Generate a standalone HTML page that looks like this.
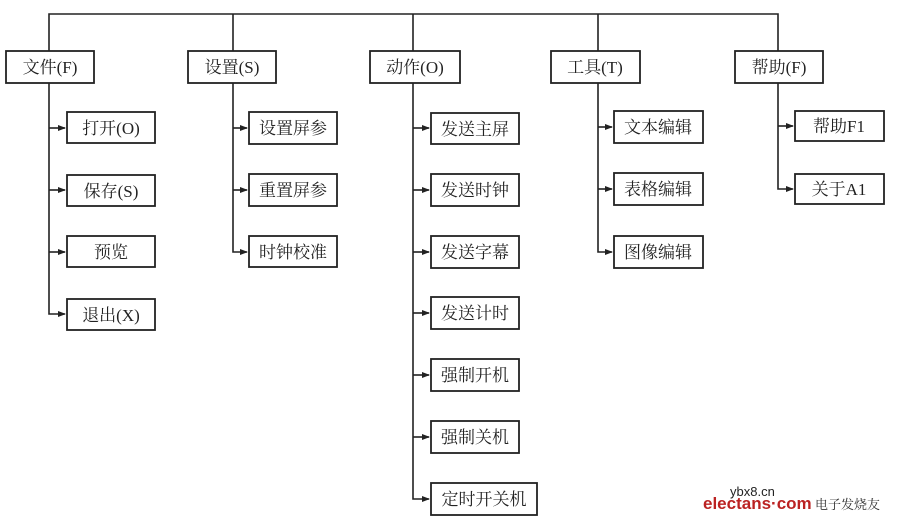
<!DOCTYPE html>
<html><head><meta charset="utf-8"><style>
html,body{margin:0;padding:0;background:#fff;}
svg{display:block;}
text{font-family:"Liberation Serif","Noto Serif CJK SC","Noto Sans CJK SC",serif;font-size:17px;fill:#222;}
</style></head><body>
<svg width="907" height="523" viewBox="0 0 907 523" xmlns="http://www.w3.org/2000/svg">
<defs><marker id="a" markerWidth="8" markerHeight="6" refX="7" refY="3" orient="auto" markerUnits="userSpaceOnUse"><path d="M0,0 L8,3 L0,6z" fill="#222"/></marker></defs>
<g stroke="#222" stroke-width="1.6" fill="none">
<path d="M49,51 V14 H778 V51"/>
<path d="M233,14 V51 M413,14 V51 M598,14 V51"/>
<path d="M49,83 V314 H65" marker-end="url(#a)"/>
<path d="M49,128 H65" marker-end="url(#a)"/>
<path d="M49,190 H65" marker-end="url(#a)"/>
<path d="M49,252 H65" marker-end="url(#a)"/>
<path d="M233,83 V252 H247" marker-end="url(#a)"/>
<path d="M233,128 H247" marker-end="url(#a)"/>
<path d="M233,190 H247" marker-end="url(#a)"/>
<path d="M413,83 V499 H429" marker-end="url(#a)"/>
<path d="M413,128 H429" marker-end="url(#a)"/>
<path d="M413,190 H429" marker-end="url(#a)"/>
<path d="M413,252 H429" marker-end="url(#a)"/>
<path d="M413,313 H429" marker-end="url(#a)"/>
<path d="M413,375 H429" marker-end="url(#a)"/>
<path d="M413,437 H429" marker-end="url(#a)"/>
<path d="M598,83 V252 H612" marker-end="url(#a)"/>
<path d="M598,127 H612" marker-end="url(#a)"/>
<path d="M598,189 H612" marker-end="url(#a)"/>
<path d="M778,83 V189 H793" marker-end="url(#a)"/>
<path d="M778,126 H793" marker-end="url(#a)"/>
</g>
<g stroke="#222" stroke-width="1.8" fill="#fff">
<rect x="6" y="51" width="88" height="32"/>
<rect x="188" y="51" width="88" height="32"/>
<rect x="370" y="51" width="90" height="32"/>
<rect x="551" y="51" width="89" height="32"/>
<rect x="735" y="51" width="88" height="32"/>
<rect x="67" y="112" width="88" height="31"/>
<rect x="67" y="175" width="88" height="31"/>
<rect x="67" y="236" width="88" height="31"/>
<rect x="67" y="299" width="88" height="31"/>
<rect x="249" y="112" width="88" height="32"/>
<rect x="249" y="174" width="88" height="32"/>
<rect x="249" y="236" width="88" height="31"/>
<rect x="431" y="113" width="88" height="31"/>
<rect x="431" y="174" width="88" height="32"/>
<rect x="431" y="236" width="88" height="32"/>
<rect x="431" y="297" width="88" height="32"/>
<rect x="431" y="359" width="88" height="32"/>
<rect x="431" y="421" width="88" height="32"/>
<rect x="431" y="483" width="106" height="32"/>
<rect x="614" y="111" width="89" height="32"/>
<rect x="614" y="173" width="89" height="32"/>
<rect x="614" y="236" width="89" height="32"/>
<rect x="795" y="111" width="89" height="30"/>
<rect x="795" y="174" width="89" height="30"/>
</g>
<g text-anchor="middle">
<text x="50" y="73">文件(F)</text>
<text x="232" y="73">设置(S)</text>
<text x="415" y="73">动作(O)</text>
<text x="595" y="73">工具(T)</text>
<text x="779" y="73">帮助(F)</text>
<text x="111" y="134">打开(O)</text>
<text x="111" y="197">保存(S)</text>
<text x="111" y="258">预览</text>
<text x="111" y="321">退出(X)</text>
<text x="293" y="134">设置屏参</text>
<text x="293" y="196">重置屏参</text>
<text x="293" y="258">时钟校准</text>
<text x="475" y="135">发送主屏</text>
<text x="475" y="196">发送时钟</text>
<text x="475" y="258">发送字幕</text>
<text x="475" y="319">发送计时</text>
<text x="475" y="381">强制开机</text>
<text x="475" y="443">强制关机</text>
<text x="484" y="505">定时开关机</text>
<text x="658" y="133">文本编辑</text>
<text x="658" y="195">表格编辑</text>
<text x="658" y="258">图像编辑</text>
<text x="839" y="132">帮助F1</text>
<text x="839" y="195">关于A1</text>
</g>
<text x="730" y="496" style="font-family:'Liberation Sans',sans-serif;font-size:13px;fill:#222">ybx8.cn</text>
<text x="703" y="509" style="font-family:'Liberation Sans',sans-serif;font-size:17px;font-weight:bold;fill:#b22">electans·com</text>
<text x="815" y="509" style="font-size:13px;fill:#333">电子发烧友</text>
</svg>
</body></html>
